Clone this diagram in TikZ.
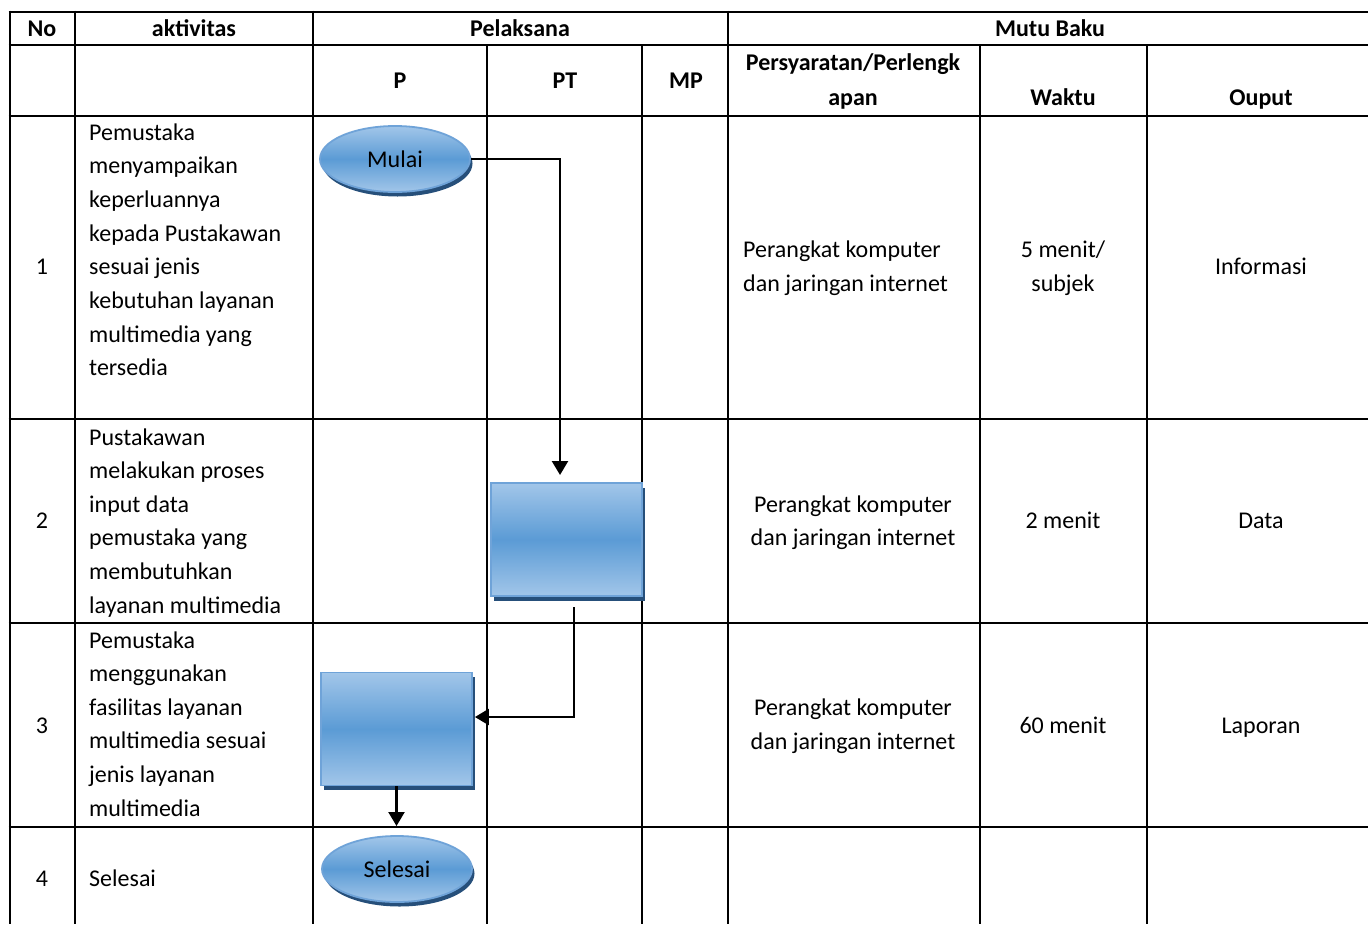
\documentclass[tikz,border=0pt]{standalone}
\usepackage{fontspec}
\setmainfont{Carlito}
\usetikzlibrary{arrows.meta,shadows,shapes.geometric}
\definecolor{lb}{HTML}{A2C6E9}
\definecolor{mb}{HTML}{5B9BD5}
\definecolor{bd}{HTML}{6FA3D8}
\definecolor{sh}{HTML}{264F7A}
\begin{document}
\begin{tikzpicture}[x=1pt,y=-1pt,
  grid/.style={line width=2.6pt,black},
  txt/.style={inner sep=0pt,font=\fontsize{24}{28}\selectfont},
  hd/.style={inner sep=0pt,font=\fontsize{24}{28}\selectfont\bfseries},
  shapebox/.style={draw=bd,line width=1.8pt,top color=lb,bottom color=lb,middle color=mb,
    drop shadow={shadow xshift=2.5pt,shadow yshift=-4.5pt,fill=sh,opacity=1}},
  proc/.style={shapebox,rectangle,minimum width=151pt,minimum height=113pt,inner sep=0pt},
  term/.style={shapebox,ellipse,minimum width=150pt,minimum height=66pt,inner sep=0pt,font=\fontsize{24}{28}\selectfont},
  arr/.style={line width=2.4pt,black,-{Triangle[length=14pt,width=16pt]}}]
\useasboundingbox (0,0) rectangle (1368,924);
% table lines
\foreach \y in {12,45,116,419,623,827} \draw[grid] (8.7,\y) -- (1368,\y);
\foreach \x in {10,75,313,728} \draw[grid] (\x,10.7) -- (\x,924);
\foreach \x in {487,642,980,1147} \draw[grid] (\x,45) -- (\x,924);
% header
\node[hd,anchor=base] (hNo) at (42,36) {No};
\node[hd,anchor=base] (hAkt) at (194,36) {aktivitas};
\node[hd,anchor=base] (hPel) at (520,36) {Pelaksana};
\node[hd,anchor=base] (hMutu) at (1050,36) {Mutu Baku};
\node[hd,anchor=base] (hP) at (400,88) {P};
\node[hd,anchor=base] (hPT) at (565,88) {PT};
\node[hd,anchor=base] (hMP) at (686,88) {MP};
\node[hd,anchor=base] (hPers1) at (853,70) {Persyaratan/Perlengk};
\node[hd,anchor=base] (hPers2) at (853,105) {apan};
\node[hd,anchor=base] (hWaktu) at (1063,105) {Waktu};
\node[hd,anchor=base] (hOut) at (1261,105) {Ouput};
% row numbers
\node[txt,anchor=base] (n1) at (42,274) {1};
\node[txt,anchor=base] (n2) at (42,528) {2};
\node[txt,anchor=base] (n3) at (42,733) {3};
\node[txt,anchor=base] (n4) at (42,886) {4};
% aktivitas
\foreach \t [count=\i] in {Pemustaka,menyampaikan,keperluannya,kepada Pustakawan,sesuai jenis,kebutuhan layanan,multimedia yang,tersedia}
  \node[txt,anchor=base west] (a1-\i) at (89,{140+33.7*(\i-1)}) {\t};
\foreach \t [count=\i] in {Pustakawan,melakukan proses,input data,pemustaka yang,membutuhkan,layanan multimedia}
  \node[txt,anchor=base west] (a2-\i) at (89,{445+33.6*(\i-1)}) {\t};
\foreach \t [count=\i] in {Pemustaka,menggunakan,fasilitas layanan,multimedia sesuai,jenis layanan,multimedia}
  \node[txt,anchor=base west] (a3-\i) at (89,{648+33.6*(\i-1)}) {\t};
\node[txt,anchor=base west] (a4) at (89,886) {Selesai};
% persyaratan
\node[txt,anchor=base west] (p1a) at (743,257) {Perangkat komputer};
\node[txt,anchor=base west] (p1b) at (743,291) {dan jaringan internet};
\node[txt,anchor=base] (p2a) at (853,512) {Perangkat komputer};
\node[txt,anchor=base] (p2b) at (853,545) {dan jaringan internet};
\node[txt,anchor=base] (p3a) at (853,715) {Perangkat komputer};
\node[txt,anchor=base] (p3b) at (853,749) {dan jaringan internet};
% waktu
\node[txt,anchor=base] (w1a) at (1063,257) {5 menit/};
\node[txt,anchor=base] (w1b) at (1063,291) {subjek};
\node[txt,anchor=base] (w2) at (1063,528) {2 menit};
\node[txt,anchor=base] (w3) at (1063,733) {60 menit};
% output
\node[txt,anchor=base] (o1) at (1261,274) {Informasi};
\node[txt,anchor=base] (o2) at (1261,528) {Data};
\node[txt,anchor=base] (o3) at (1261,733) {Laporan};
% flow shapes
\node[term] (mulai) at (395,159) {Mulai};
\node[proc] (pt) at (566.5,539.5) {};
\node[proc] (pu) at (396.5,729) {};
\node[term] (selesai) at (397,869) {Selesai};
% connectors
\coordinate (c1) at (560,475);
\draw[arr] (mulai.east) -| (c1);
\coordinate (c2) at (574,607);
\draw[arr] (c2) |- ([yshift=12pt,xshift=2pt]pu.east);
\coordinate (c3) at (pu.south |- 0,826);
\draw[arr] (pu.south) -- (c3);
\end{tikzpicture}
\end{document}
